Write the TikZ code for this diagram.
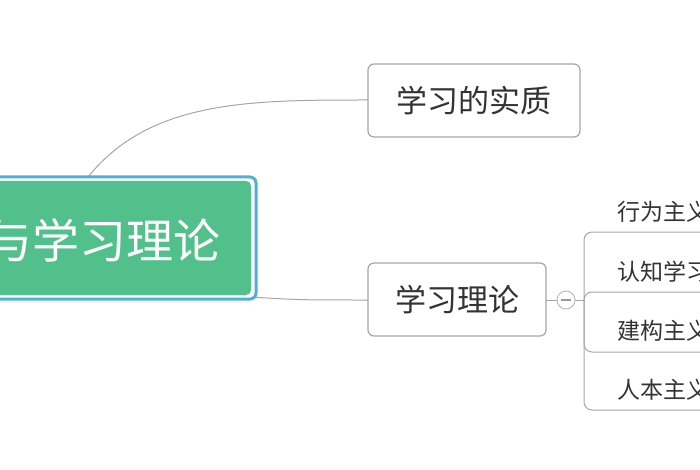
\documentclass[tikz,border=0pt]{standalone}
\usepackage{fontspec}
\setmainfont{Noto Sans CJK SC}
\begin{document}
\begin{tikzpicture}[x=1pt,y=-1pt,
  topic/.style={draw=black!35,line width=1.2pt,rounded corners=6pt,fill=white},
  ttext/.style={text=black!80,font=\fontsize{31}{34}\selectfont,inner sep=0pt},
  conn/.style={draw=black!35,line width=1pt},
  sub/.style={anchor=west,text=black!80,font=\fontsize{23}{26}\selectfont,inner sep=0pt}]
\useasboundingbox (0,0) rectangle (700,470);
\clip (0,0) rectangle (700,470);
\draw[conn] (88,177) .. controls (150,100) and (250,100) .. (368,100);
\draw[conn] (250,297) .. controls (300,300) .. (368,300);
\draw[draw={rgb,255:red,80;green,175;blue,215},line width=3pt,rounded corners=6pt,fill=white] (-20,177) rectangle (256,299);
\fill[rounded corners=5pt,fill={rgb,255:red,82;green,192;blue,138}] (-20,181) rectangle (251,295);
\node[anchor=east,text=white,font=\fontsize{47}{50}\selectfont,inner sep=0pt] (c) at (221,240) {学习与学习理论};
\draw[topic] (368,64) rectangle (580,137);
\node[ttext] (a) at (474,101) {学习的实质};
\draw[topic] (368,263) rectangle (546,336);
\node[ttext] (b) at (457,300) {学习理论};
\node[circle,draw=black!30,line width=0.8pt,minimum size=18pt,inner sep=0pt] (m) at (566,300) {};
\draw[black!40,line width=1.2pt] (561,300) -- (571,300);
\draw[conn] (546,300) -- (m.west);
\draw[conn] (m.east) -- (584,300);
\foreach \yy in {232,292,352,410}{
  \draw[conn,rounded corners=8pt] (700,\yy) -- (584,\yy) -- (584,300);}
\node[sub] (s1) at (617,212) {行为主义学习理论};
\node[sub] (s2) at (617,272) {认知学习理论};
\node[sub] (s3) at (617,331) {建构主义学习理论};
\node[sub] (s4) at (617,390) {人本主义学习理论};
\end{tikzpicture}
\end{document}
